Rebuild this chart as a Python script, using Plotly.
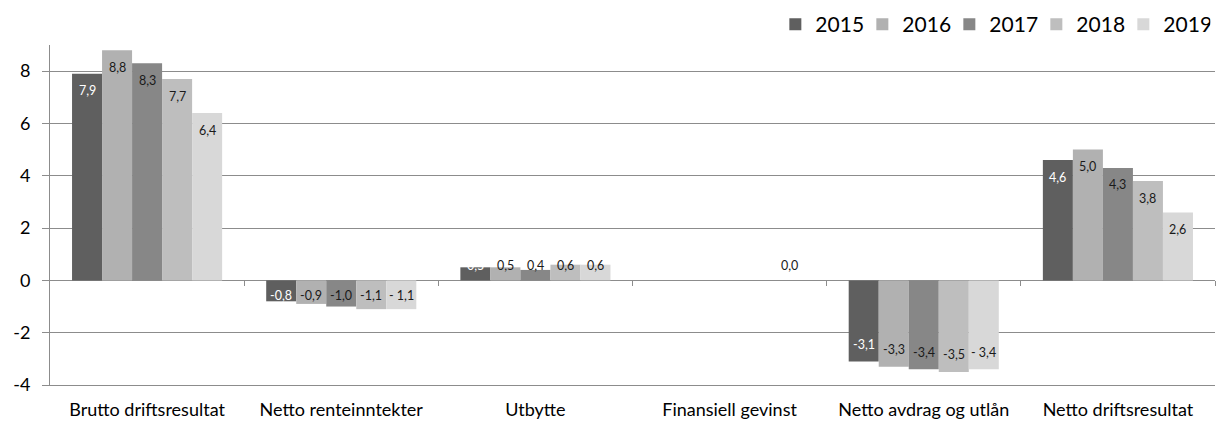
import plotly.graph_objects as go

# Chart data
categories = ["Brutto driftsresultat", "Netto renteinntekter", "Utbytte",
              "Finansiell gevinst", "Netto avdrag og utlån", "Netto driftsresultat"]
years = ["2015", "2016", "2017", "2018", "2019"]
v2015 = [7.9, -0.8, 0.5, None, -3.1, 4.6]
v2016 = [8.8, -0.9, 0.5, None, -3.3, 5.0]
v2017 = [8.3, -1.0, 0.4, None, -3.4, 4.3]
v2018 = [7.7, -1.1, 0.6, None, -3.5, 3.8]
v2019 = [6.4, -1.1, 0.6, 0.0, -3.4, 2.6]
series = [v2015, v2016, v2017, v2018, v2019]
y_ticks = [-4, -2, 0, 2, 4, 6, 8]

colors = ["#5f5f5f", "#b1b1b1", "#878787", "#bebebe", "#d8d8d8"]
label_colors = ["#ffffff", "#1a1a1a", "#1a1a1a", "#1a1a1a", "#1a1a1a"]
spaced_minus = [False, False, False, False, True]

FONT = "Lato"
W, H = 1221, 423
M = dict(l=50, r=6, t=45, b=38, autoexpand=False)
Y_RANGE = [-4, 9]
BARGAP = 0.227


def fmt(v, spaced):
    s = f"{abs(v):.1f}".replace(".", ",")
    if v < 0:
        return ("- " if spaced else "-") + s
    return s


fig = go.Figure()
for name, vals, col in zip(years, series, colors):
    fig.add_trace(go.Bar(
        name=name, x=categories, y=vals,
        marker=dict(color=col, line=dict(width=0)),
        hoverinfo="skip",
    ))

# Data labels: inside the bar end, pushed outward for short bars
px_per_unit = (H - M["t"] - M["b"]) / (Y_RANGE[1] - Y_RANGE[0])
inset = 17 / px_per_unit
min_off = 15 / px_per_unit
bw = (1 - BARGAP) / len(years)
annotations = []
for i, vals in enumerate(series):
    for j, v in enumerate(vals):
        if v is None:
            continue
        sign = -1 if v < 0 else 1
        yl = sign * max(abs(v) - inset, min_off)
        annotations.append(dict(
            x=j + (i - (len(years) - 1) / 2) * bw, y=yl, xref="x", yref="y",
            text=fmt(v, spaced_minus[i]), showarrow=False,
            font=dict(family=FONT, size=12.5, color=label_colors[i]),
            xanchor="center", yanchor="middle",
        ))

# Dummy trace for the tick axis along the zero line
fig.add_trace(go.Scatter(x=[None], y=[None], xaxis="x2", yaxis="y",
                         showlegend=False, hoverinfo="skip"))

grid = "#8c8c8c"
fig.update_layout(
    width=W, height=H, margin=M,
    paper_bgcolor="white", plot_bgcolor="white",
    barmode="group", bargap=BARGAP, bargroupgap=0,
    font=dict(family=FONT, color="#000000"),
    showlegend=True,
    legend=dict(orientation="h", x=0.996, xanchor="right", y=1.0, yanchor="bottom",
                font=dict(family=FONT, size=21, color="#000000"),
                traceorder="normal", itemwidth=30, entrywidth=42),
    xaxis=dict(type="category", range=[-0.5, 5.5], showgrid=False,
               showline=True, linecolor=grid, linewidth=1, ticks="",
               ticklabelstandoff=8, automargin=False,
               tickfont=dict(family=FONT, size=18, color="#000000")),
    xaxis2=dict(overlaying="x", anchor="free",
                position=(0 - Y_RANGE[0]) / (Y_RANGE[1] - Y_RANGE[0]),
                range=[-0.5, 5.5], showgrid=False, showline=False, zeroline=False,
                tickvals=[0.5, 1.5, 2.5, 3.5, 4.5, 5.5], ticks="outside",
                ticklen=5, tickcolor=grid, showticklabels=False, automargin=False),
    yaxis=dict(range=Y_RANGE, tickvals=y_ticks, ticktext=[str(t) for t in y_ticks],
               showgrid=True, gridcolor=grid, gridwidth=1,
               zeroline=True, zerolinecolor=grid, zerolinewidth=1,
               showline=True, linecolor=grid, linewidth=1,
               ticks="outside", ticklen=7, tickcolor=grid,
               ticklabelstandoff=8, automargin=False,
               tickfont=dict(family=FONT, size=18, color="#000000")),
    annotations=annotations,
)

fig.write_html("out.html")
